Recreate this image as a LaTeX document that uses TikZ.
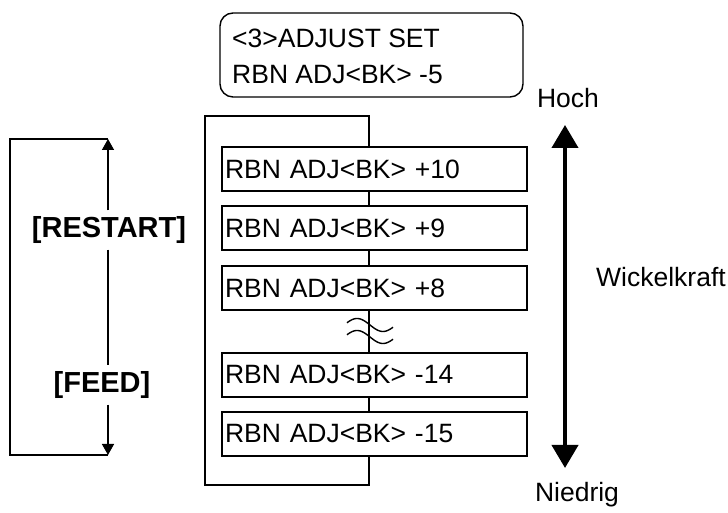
\documentclass[tikz,border=0pt]{standalone}
\usepackage{fontspec}
\setmainfont{Liberation Sans}
\usetikzlibrary{arrows.meta}
\begin{document}
\begin{tikzpicture}[x=1pt,y=1pt,
  txt/.style={font=\fontsize{26.5}{32}\selectfont, inner sep=0pt},
  bold/.style={font=\fontsize{29}{34}\selectfont\bfseries, inner sep=6pt},
  box/.style={draw, line width=1.4pt, fill=white, minimum height=44pt, text width=299pt, inner xsep=3pt, inner ysep=0pt, align=left, font=\fontsize{26.5}{32}\selectfont},
  frame/.style={draw, line width=1.4pt},
  thin/.style={line width=1.4pt},
  small/.style={thin, -{Triangle[length=11pt,width=12pt]}},
  big/.style={line width=4pt, {Triangle[length=23pt,width=26pt]}-{Triangle[length=23pt,width=26pt]}}
]
\useasboundingbox (0,0) rectangle (728,513);
% top display
\node[draw, line width=1.4pt, rounded corners=13pt, minimum width=303pt, minimum height=84pt] (disp) at (371.5,458) {};
\node[txt, anchor=west] (l1) at (232,475) {<3>ADJUST SET};
\node[txt, anchor=west] (l2) at (232,438) {RBN ADJ<BK> -5};
% frame
\draw[frame] (205,397) rectangle (369,28);
% squiggle
\foreach \yy in {188,176} {
  \draw[line width=1.4pt, domain=0:1, samples=40] plot ({347+46*\x}, {\yy + 6.5*sin(20+320*\x)});
}
% boxes
\node[box] (b1) at (374.5,344) {RBN ADJ<BK> +10};
\node[box] (b2) at (374.5,285) {RBN ADJ<BK> +9};
\node[box] (b3) at (374.5,225) {RBN ADJ<BK> +8};
\node[box] (b4) at (374.5,138) {RBN ADJ<BK> -14};
\node[box] (b5) at (374.5,79) {RBN ADJ<BK> -15};
% left loop
\node[bold] (rs) at (109,283) {[RESTART]};
\node[bold] (fd) at (102,128) {[FEED]};
\coordinate (tr) at (108,374);
\coordinate (tl) at (10,374);
\coordinate (bl) at (10,58);
\coordinate (br) at (108,58);
\draw[small] (tr |- rs.north) -- (tr);
\draw[thin] (tr) -- (tl) -- (bl) -- (br);
\draw[thin] (tr |- rs.south) -- (tr |- fd.north);
\draw[small] (br |- fd.south) -- (br);
% right arrow
\node[txt] (hoch) at (568,415) {Hoch};
\node[txt] (nied) at (577,18) {Niedrig};
\node[txt, anchor=west] (wk) at (596,236) {Wickelkraft};
\coordinate (at) at (565,388);
\coordinate (ab) at (565,45);
\draw[big] (ab) -- (at);
\end{tikzpicture}
\end{document}
